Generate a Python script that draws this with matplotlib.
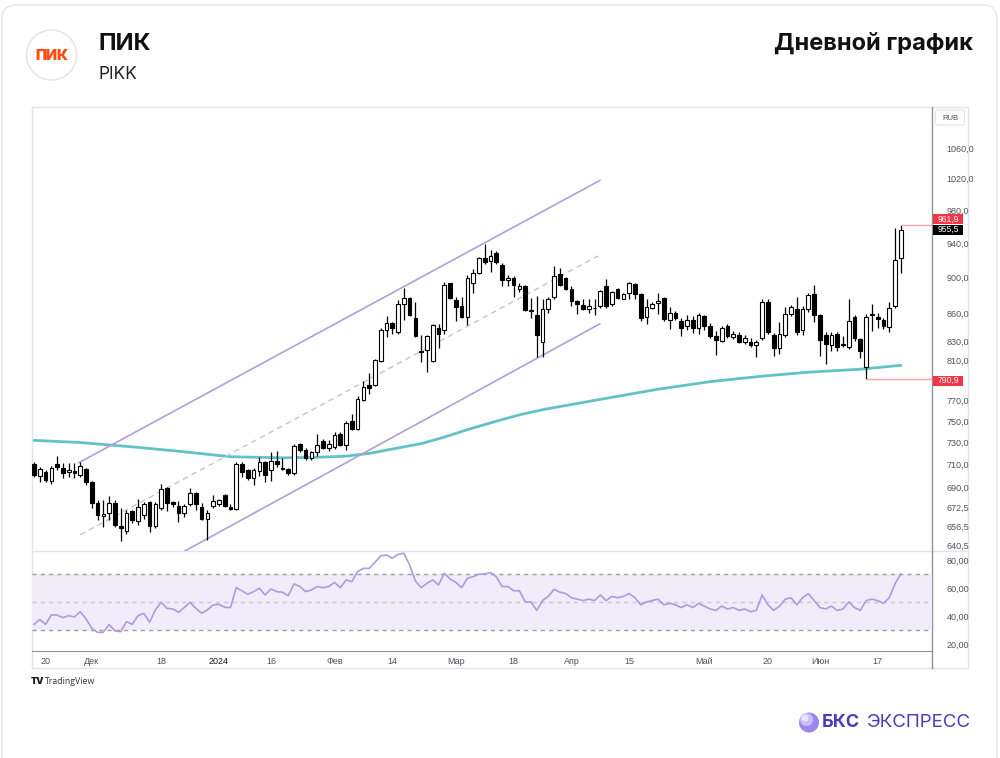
import matplotlib
matplotlib.use("Agg")
import matplotlib.pyplot as plt
import numpy as np
from matplotlib.patches import FancyBboxPatch, Circle, Rectangle
from matplotlib.ticker import NullLocator

plt.rcParams['font.family'] = ['Inter', 'DejaVu Sans']

# daily candles PIKK
OPEN = [710, 700, 703, 695, 710, 707, 703, 704, 701, 706,
        694, 676, 665, 668, 676, 657, 653, 669, 661, 666,
        677, 657, 672, 689, 677, 674, 668, 675, 685, 673,
        663, 674, 675, 683, 673, 671, 710, 705, 698, 704,
        712, 705, 713, 706, 706, 702, 729, 723, 716, 721,
        731, 725, 726, 738, 728, 750, 743, 770, 785, 785,
        809, 842, 849, 840, 870, 877, 855, 820, 821, 809,
        844, 842, 893, 874, 868, 856, 893, 905, 922, 919,
        928, 914, 897, 899, 887, 890, 862, 858, 829, 865,
        878, 904, 899, 887, 873, 869, 864, 866, 868, 890,
        870, 887, 876, 882, 892, 881, 856, 866, 871, 877,
        853, 860, 851, 846, 853, 844, 857, 846, 835, 830,
        846, 834, 837, 829, 829, 826, 833, 872, 836, 823,
        836, 859, 864, 842, 864, 881, 858, 837, 826, 838,
        827, 824, 856, 832, 803, 858, 856, 853, 845, 868,
        922]
HIGH = [712, 708, 705, 709, 718, 711, 711, 711, 712, 707,
        695, 679, 679, 682, 679, 672, 670, 670, 680, 677,
        678, 677, 693, 690, 678, 678, 675, 689, 686, 676,
        670, 683, 680, 684, 675, 712, 712, 706, 707, 717,
        713, 721, 722, 716, 707, 729, 730, 725, 722, 738,
        733, 732, 740, 740, 750, 757, 774, 789, 797, 811,
        844, 857, 850, 874, 888, 878, 872, 836, 837, 848,
        848, 895, 894, 878, 878, 902, 910, 923, 939, 932,
        930, 916, 902, 901, 893, 891, 877, 879, 875, 878,
        913, 911, 900, 890, 874, 875, 876, 875, 885, 898,
        884, 888, 882, 895, 894, 882, 875, 872, 882, 878,
        867, 862, 855, 858, 857, 860, 858, 849, 841, 846,
        848, 841, 840, 836, 833, 831, 875, 875, 839, 850,
        867, 869, 878, 868, 882, 891, 859, 840, 840, 840,
        835, 876, 858, 833, 859, 870, 860, 855, 872, 958,
        961.9]
LOW = [699, 694, 694, 693, 705, 698, 699, 698, 699, 692,
       672, 662, 656, 662, 656, 644, 650, 659, 658, 663,
       652, 655, 670, 669, 673, 660, 664, 674, 670, 662,
       645, 672, 674, 673, 670, 670, 699, 696, 692, 700,
       694, 695, 708, 705, 701, 701, 721, 714, 714, 718,
       724, 722, 724, 727, 723, 742, 742, 769, 776, 784,
       808, 834, 838, 838, 853, 857, 834, 808, 798, 808,
       823, 838, 876, 852, 855, 847, 882, 904, 915, 906,
       915, 890, 890, 878, 883, 862, 855, 813, 813, 860,
       876, 890, 886, 868, 859, 863, 860, 858, 866, 866,
       868, 875, 875, 875, 876, 851, 848, 864, 859, 851,
       843, 853, 835, 842, 839, 838, 842, 833, 816, 829,
       833, 832, 828, 827, 824, 813, 831, 838, 815, 817,
       834, 857, 836, 836, 861, 850, 815, 806, 820, 820,
       824, 822, 830, 812, 790.9, 841, 844, 843, 840, 866,
       905]
CLOSE = [701, 706, 696, 707, 708, 702, 705, 702, 709, 694,
         676, 666, 667, 676, 658, 655, 668, 662, 673, 675,
         657, 675, 688, 676, 675, 668, 674, 685, 675, 663,
         668, 678, 679, 674, 671, 710, 703, 698, 705, 712,
         701, 713, 710, 707, 702, 727, 723, 716, 721, 728,
         725, 729, 737, 728, 748, 743, 771, 783, 782, 810,
         842, 849, 844, 870, 877, 858, 835, 819, 835, 847,
         838, 891, 877, 867, 856, 899, 905, 922, 918, 925,
         917, 897, 899, 891, 890, 863, 863, 837, 865, 876,
         901, 891, 887, 873, 870, 864, 868, 866, 884, 868,
         883, 877, 881, 894, 881, 855, 867, 870, 873, 854,
         860, 855, 844, 853, 844, 858, 846, 835, 831, 844,
         835, 838, 829, 833, 826, 829, 872, 840, 823, 838,
         859, 867, 840, 865, 880, 858, 831, 827, 836, 824,
         826, 852, 833, 820, 856, 859, 854, 846, 866, 920,
         955.5]

RSI = [34.0, 37.4, 34.0, 40.7, 40.7, 38.8, 40.2, 39.3, 43.1, 37.9,
       31.2, 28.3, 28.3, 34.0, 29.3, 28.8, 36.0, 34.0, 40.2, 41.9,
       35.5, 44.3, 49.8, 45.5, 45.0, 42.6, 46.0, 49.8, 45.5, 41.9,
       44.3, 47.9, 48.3, 46.2, 46.0, 60.2, 57.9, 55.5, 57.4, 59.8,
       55.0, 59.3, 57.4, 56.9, 54.5, 62.9, 61.0, 57.4, 58.6, 61.0,
       60.2, 61.0, 64.0, 60.2, 65.7, 64.5, 71.7, 74.0, 74.0, 78.3,
       82.9, 83.6, 81.2, 84.0, 84.8, 76.4, 65.0, 60.2, 63.3, 65.7,
       62.1, 70.5, 66.4, 64.0, 60.2, 66.9, 68.1, 69.8, 70.0, 71.0,
       68.0, 61.0, 61.0, 58.0, 58.0, 50.0, 50.0, 44.0, 51.0, 54.0,
       59.0, 57.0, 56.0, 53.0, 52.0, 51.0, 52.0, 51.0, 55.0, 51.0,
       54.0, 53.0, 54.0, 56.0, 53.0, 48.0, 50.0, 51.0, 52.0, 48.0,
       49.0, 48.0, 46.0, 48.0, 46.0, 49.0, 47.0, 45.0, 44.0, 47.0,
       45.0, 46.0, 44.0, 45.0, 43.0, 44.0, 55.0, 48.0, 44.0, 47.0,
       52.0, 53.0, 48.0, 53.0, 56.0, 51.0, 46.0, 45.0, 47.0, 44.0,
       45.0, 50.0, 46.0, 44.0, 51.0, 52.0, 51.0, 49.0, 53.0, 63.0,
       70.0]

# 200-day average, sampled
MA_IDX = [0, 8, 17, 25, 34, 43, 49, 54, 58, 62, 67, 71, 75, 80, 84, 88, 93, 97,
          101, 108, 117, 126, 134, 143, 150]
MA_VAL = [732, 730, 726, 722, 717, 716, 716.5, 717.5, 720, 724, 729, 735, 742, 750,
          756, 761, 766, 770, 774, 781, 788.5, 794, 798, 801, 805]

# channel drawn on the chart (bar index, price)
CH_UPPER = ([7.8, 97.9], [711.7, 1017.3])
CH_LOWER = ([26.1, 97.9], [636.3, 848.3])
CH_MID = ([8.0, 97.6], [649.5, 924.6])

LAST_HIGH = 961.9
LAST_CLOSE = 955.5
RECENT_LOW = 790.9

PRICE_TICKS = [640.5, 656.5, 672.5, 690, 710, 730, 750, 770, 810, 830, 860, 900, 940, 980, 1020, 1060]
RSI_TICKS = [20, 40, 60, 80]
X_TICKS = [2, 10, 22, 32, 41, 52, 62, 73, 83, 93, 103, 116, 127, 136, 146]
X_LABELS = ["20", "Дек", "18", "2024", "16", "Фев", "14", "Мар", "18", "Апр",
            "15", "Май", "20", "Июн", "17"]

AXIS_TXT = "#50535e"
FRAME = "#e0e3eb"
PURPLE = "#b39ddb"

fig = plt.figure(figsize=(10, 7.58), dpi=100)

# canvas in pixel coords for card, header, footer
cv = fig.add_axes([0, 0, 1, 1], zorder=0)
cv.set_xlim(0, 1000)
cv.set_ylim(758, 0)
cv.axis("off")
cv.add_patch(FancyBboxPatch((2, 5), 995, 800, boxstyle="round,pad=0,rounding_size=14",
                            fc="white", ec="#e6e6e6", lw=1))
cv.add_patch(Circle((51.5, 55), 25, fc="white", ec="#e3e3e3", lw=1))
cv.text(51.5, 55.5, "ПИК", color="#ff4d12", fontsize=10.5, fontweight="black",
        ha="center", va="center")
cv.text(98, 50, "ПИК", color="#111111", fontsize=17, fontweight="bold", ha="left", va="baseline")
cv.text(98, 79, "PIKK", color="#222222", fontsize=12.5, ha="left", va="baseline")
cv.text(973, 50, "Дневной график", color="#111111", fontsize=17, fontweight="bold",
        ha="right", va="baseline")

# chart frame
cv.add_patch(Rectangle((32, 107), 936, 561, fc="none", ec=FRAME, lw=1))
cv.plot([932, 968], [551, 551], color=FRAME, lw=1)
cv.plot([32, 932], [551, 551], color=FRAME, lw=1)
cv.plot([932, 932], [107, 668], color="#8f929c", lw=1)
cv.add_patch(FancyBboxPatch((935.5, 110), 29, 15, boxstyle="round,pad=0,rounding_size=2",
                            fc="white", ec=FRAME, lw=0.8))
cv.text(950, 118, "RUB", fontsize=5.5, color=AXIS_TXT, ha="center", va="center",
        family=["Liberation Sans", "DejaVu Sans"])

# price labels on the axis
def tag(y, txt, bg):
    cv.add_patch(Rectangle((933, y - 5), 30, 10, fc=bg, ec="none", zorder=5))
    cv.text(948, y + 0.3, txt, color="white", fontsize=6.2, ha="center", va="center", zorder=6,
            family=["Liberation Sans", "DejaVu Sans"])

tag(219, f"{LAST_HIGH:.1f}".replace(".", ","), "#f23645")
tag(229.5, f"{LAST_CLOSE:.1f}".replace(".", ","), "#000000")
tag(380.5, f"{RECENT_LOW:.1f}".replace(".", ","), "#f23645")

# TradingView mark
cv.text(31, 681, "TV", fontsize=6.5, fontweight="black", color="#131722", ha="left", va="center")
cv.text(45, 681, "TradingView", fontsize=6.3, color="#333333", ha="left", va="center",
        family=["Open Sans", "DejaVu Sans"])

# BKS logo
cv.add_patch(Circle((809, 722.5), 10, fc="#9b87ee", ec="none"))
cv.add_patch(Circle((806.5, 719.5), 6.5, fc="#c9bdf7", ec="none"))
cv.add_patch(Circle((805, 718), 3.5, fc="#e9e3fc", ec="none"))
cv.text(822, 722.5, "БКС", fontsize=13, fontweight="bold", color="#4b3cb8", ha="left", va="center")
cv.text(867, 722.5, "ЭКСПРЕСС", fontsize=13.5, color="#4b3cb8", ha="left", va="center")

# price panel
x = np.arange(len(CLOSE))
o = np.array(OPEN, float)
c = np.array(CLOSE, float)

ax = fig.add_axes([0.032, 0.2731, 0.9, 0.5857], zorder=1)
ax.patch.set_alpha(0)
ax.set_yscale("log")
ax.set_xlim(-0.35, 155.4)
ax.set_ylim(636.3, 1116.5)

ax.plot(MA_IDX, MA_VAL, color="#62c3c7", lw=2, zorder=1.5, solid_capstyle="round",
        solid_joinstyle="round")
ax.plot(*CH_UPPER, color=PURPLE, lw=1.2, zorder=1.6)
ax.plot(*CH_LOWER, color=PURPLE, lw=1.2, zorder=1.6)
ax.plot(*CH_MID, color="#c9bdea", lw=1, ls=(0, (4, 3)), zorder=1.6)

ax.vlines(x, LOW, HIGH, color="black", lw=0.9, zorder=2)
faces = ["white" if cc >= oo else "black" for oo, cc in zip(o, c)]
ax.bar(x, np.abs(c - o), bottom=np.minimum(o, c), width=0.64, color=faces,
       edgecolor="black", linewidth=0.8, zorder=3)

ax.hlines(LAST_HIGH, len(CLOSE) - 1, 155.4, color="#f5a3a9", lw=1, zorder=2)
ax.hlines(RECENT_LOW, 144, 155.4, color="#f5a3a9", lw=1, zorder=2)

ax.yaxis.set_minor_locator(NullLocator())
ax.set_yticks(PRICE_TICKS)
ax.set_yticklabels([f"{v:.1f}".replace(".", ",") for v in PRICE_TICKS])
ax.tick_params(axis="y", which="both", left=False, labelleft=False, right=False,
               labelright=True, pad=7, labelsize=6.5, labelcolor=AXIS_TXT)
ax.tick_params(axis="x", bottom=False, labelbottom=False)
for s in ax.spines.values():
    s.set_visible(False)
for lab in ax.get_yticklabels():
    lab.set_family(["Liberation Sans", "DejaVu Sans"])

# RSI panel
rax = fig.add_axes([0.032, 0.1412, 0.9, 0.1319], zorder=1)
rax.patch.set_alpha(0)
rax.set_xlim(-0.35, 155.4)
rax.set_ylim(15, 86.4)
rax.axhspan(30, 70, color="#f0ecf9", lw=0, zorder=0.5)
rax.axhline(70, color="#9e9ea6", lw=1, ls=(0, (3, 3)), zorder=1)
rax.axhline(30, color="#9e9ea6", lw=1, ls=(0, (3, 3)), zorder=1)
rax.axhline(50, color="#c9c9cf", lw=1, ls=(0, (3, 3)), zorder=1)
rax.plot(x, RSI, color="#b09ade", lw=1.2, zorder=2)

rax.set_yticks(RSI_TICKS)
rax.set_yticklabels([f"{v:.2f}".replace(".", ",") for v in RSI_TICKS])
rax.tick_params(axis="y", left=False, labelleft=False, right=False, labelright=True,
                pad=7, labelsize=6.5, labelcolor=AXIS_TXT)
rax.set_xticks(X_TICKS)
rax.set_xticklabels(X_LABELS)
rax.tick_params(axis="x", length=0, pad=4, labelsize=6.5, labelcolor=AXIS_TXT)
for s in ["top", "left", "right"]:
    rax.spines[s].set_visible(False)
rax.spines["bottom"].set_color("#8f929c")
for lab in rax.get_yticklabels() + rax.get_xticklabels():
    lab.set_family(["Liberation Sans", "DejaVu Sans"])
for lab in rax.get_xticklabels():
    if lab.get_text() == "2024":
        lab.set_color("#131722")

plt.savefig("out.png", dpi=100)
